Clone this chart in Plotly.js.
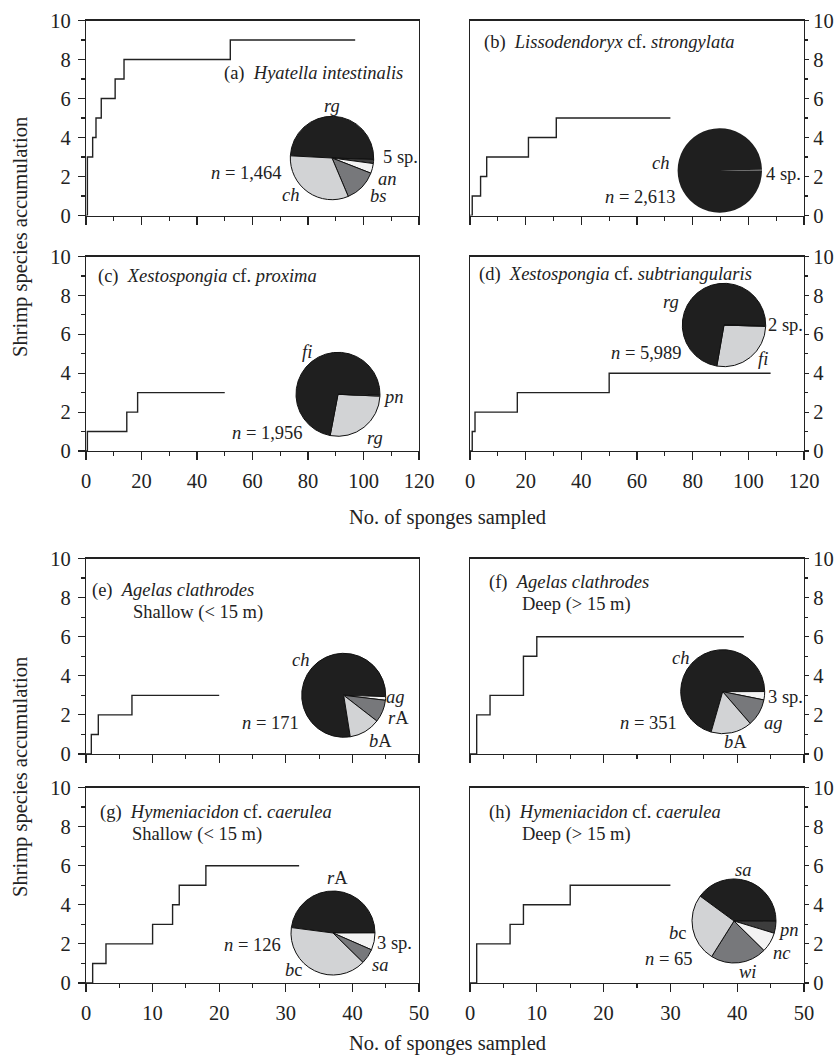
<!DOCTYPE html>
<html><head><meta charset="utf-8">
<script src="https://cdn.plot.ly/plotly-3.0.1.min.js"></script>
<style>html,body{margin:0;padding:0;background:#fff;} #chart{width:840px;height:1057px;}</style>
</head><body><div id="chart"></div>
<script>
// ---------------- DATA ----------------
const panelIds = ['a','b','c','d','e','f','g','h'];
const xMaxTop = 120;      // panels a-d
const xMaxBottom = 50;    // panels e-h
const yMax = 10;
const yTicks = [0, 2, 4, 6, 8, 10];

// species accumulation steps (sponges sampled -> cumulative shrimp species)
const stepA_x = [0, 0.5, 2.4, 3.6, 5.5, 10.5, 13.7, 52, 97];
const stepA_y = [0, 3, 4, 5, 6, 7, 8, 9, 9];
const stepB_x = [0, 0.8, 3.8, 6, 21, 31, 72];
const stepB_y = [0, 1, 2, 3, 4, 5, 5];
const stepC_x = [0, 0.5, 14.7, 18.6, 50];
const stepC_y = [0, 1, 2, 3, 3];
const stepD_x = [0, 0.8, 1.8, 17, 50, 108];
const stepD_y = [0, 1, 2, 3, 4, 4];
const stepE_x = [0, 0.8, 1.85, 6.9, 20];
const stepE_y = [0, 1, 2, 3, 3];
const stepF_x = [0, 1, 3, 8, 10, 41];
const stepF_y = [0, 2, 3, 5, 6, 6];
const stepG_x = [0, 1, 3, 10, 13, 14, 18, 32];
const stepG_y = [0, 1, 2, 3, 4, 5, 6, 6];
const stepH_x = [0, 1, 6, 8, 15, 30];
const stepH_y = [0, 2, 3, 4, 5, 5];

// pie composition (%), listed clockwise
const pieA_labels = ['rg', '5 sp.', 'an', 'bs', 'ch'];
const pieA_values = [49.7, 1.6, 3.8, 12.7, 32.2];
const pieB_labels = ['4 sp.', 'ch'];
const pieB_values = [0.5, 99.5];
const pieC_labels = ['rg', 'fi', 'pn'];
const pieC_values = [27.3, 72.4, 0.3];
const pieD_labels = ['fi', 'rg', '2 sp.'];
const pieD_values = [27.2, 72.5, 0.3];
const pieE_labels = ['ch', 'ag', 'rA', 'bA'];
const pieE_values = [78, 1.4, 8.6, 12];
const pieF_labels = ['ch', '3 sp.', 'ag', 'bA'];
const pieF_values = [70.5, 3.2, 10.5, 15.8];
const pieG_labels = ['rA', '3 sp.', 'sa', 'bc'];
const pieG_values = [47.9, 6.6, 5.8, 39.7];
const pieH_labels = ['sa', 'pn', 'nc', 'wi', 'bc'];
const pieH_values = [26, 3, 5, 14, 17];

const sampleN = ['1,464', '2,613', '1,956', '5,989', '171', '351', '126', '65'];

const panelTitles = [
  '(a)\u00a0\u00a0<i>Hyatella intestinalis</i>',
  '(b)\u00a0\u00a0<i>Lissodendoryx</i> cf. <i>strongylata</i>',
  '(c)\u00a0\u00a0<i>Xestospongia</i> cf. <i>proxima</i>',
  '(d)\u00a0\u00a0<i>Xestospongia</i> cf. <i>subtriangularis</i>',
  '(e)\u00a0\u00a0<i>Agelas clathrodes</i>',
  '(f)\u00a0\u00a0<i>Agelas clathrodes</i>',
  '(g)\u00a0\u00a0<i>Hymeniacidon</i> cf. <i>caerulea</i>',
  '(h)\u00a0\u00a0<i>Hymeniacidon</i> cf. <i>caerulea</i>'
];
const depthLabels = ['', '', '', '', 'Shallow (&lt; 15 m)', 'Deep (&gt; 15 m)', 'Shallow (&lt; 15 m)', 'Deep (&gt; 15 m)'];
const xTitle = 'No. of sponges sampled';
const yTitle = 'Shrimp species accumulation';

// ---------------- STYLE / LAYOUT ----------------
const W = 840, H = 1057;
const FONT = 'Liberation Serif, Times New Roman, serif';
const INK = '#222';
const px = v => v / W;
const py = v => 1 - v / H;

const colL = [86, 419], colR = [470, 804];
const rows = [[20.5, 215.5], [256.5, 451], [558.5, 754], [787.5, 983]];

const steps = [[stepA_x, stepA_y], [stepB_x, stepB_y], [stepC_x, stepC_y], [stepD_x, stepD_y],
               [stepE_x, stepE_y], [stepF_x, stepF_y], [stepG_x, stepG_y], [stepH_x, stepH_y]];

const K = '#1f1f1f', D = '#3d3d3d', G = '#77787b', L = '#d2d3d5', Wt = '#f3f3f3';
const pies = [
  {labels: pieA_labels, values: pieA_values, colors: [K, D, Wt, G, L], rot: -87, c: [332, 158, 41.7]},
  {labels: pieB_labels, values: pieB_values, colors: ['#666', K], rot: 89, c: [719.8, 170.5, 42.2]},
  {labels: pieC_labels, values: pieC_values, colors: [L, K, Wt], rot: 92.5, c: [338, 394.3, 42]},
  {labels: pieD_labels, values: pieD_values, colors: [L, K, Wt], rot: 92, c: [724, 325, 41.7]},
  {labels: pieE_labels, values: pieE_values, colors: [K, Wt, G, L], rot: 171, c: [343.7, 695.3, 42]},
  {labels: pieF_labels, values: pieF_values, colors: [K, Wt, G, L], rot: 196, c: [722.7, 691.7, 42]},
  {labels: pieG_labels, values: pieG_values, colors: [K, Wt, G, L], rot: -82.6, c: [333, 933, 42]},
  {labels: pieH_labels, values: pieH_values, colors: [K, D, Wt, G, L], rot: -53.7, c: [734, 921, 42]}
];

const sliceText = {
  'rg': '<i>rg</i>', 'ch': '<i>ch</i>', 'an': '<i>an</i>', 'bs': '<i>bs</i>', 'fi': '<i>fi</i>',
  'pn': '<i>pn</i>', 'ag': '<i>ag</i>', 'sa': '<i>sa</i>', 'nc': '<i>nc</i>', 'wi': '<i>wi</i>',
  'rA': '<i>r</i>A', 'bA': '<i>b</i>A', 'bc': '<i>b</i>c',
  '5 sp.': '5 sp.', '4 sp.': '4 sp.', '3 sp.': '3 sp.', '2 sp.': '2 sp.'
};
const pieLabelPos = [
  {'rg': [332, 106, 'center'], '5 sp.': [382, 157, 'left'], 'an': [387, 179, 'center'], 'bs': [378, 196, 'center'], 'ch': [290.5, 195, 'center'], n: [283, 173]},
  {'ch': [660, 163, 'center'], '4 sp.': [765, 174, 'left'], n: [677, 197]},
  {'fi': [307, 352, 'center'], 'pn': [393, 397, 'center'], 'rg': [375, 438, 'center'], n: [304, 433]},
  {'rg': [671, 302, 'center'], '2 sp.': [766.5, 325, 'left'], 'fi': [763, 359, 'center'], n: [683, 353]},
  {'ch': [300, 660, 'center'], 'ag': [395, 697, 'center'], 'rA': [398, 718, 'center'], 'bA': [380, 741, 'center'], n: [300, 723]},
  {'ch': [680, 658, 'center'], '3 sp.': [766.5, 697, 'left'], 'ag': [773, 723, 'center'], 'bA': [735, 742, 'center'], n: [678, 723]},
  {'rA': [337, 878, 'center'], '3 sp.': [376, 943, 'left'], 'sa': [380, 965, 'center'], 'bc': [293, 970, 'center'], n: [281.7, 945]},
  {'sa': [743, 870, 'center'], 'pn': [788, 930, 'center'], 'nc': [782, 953, 'center'], 'wi': [747, 972, 'center'], 'bc': [677, 933, 'center'], n: [692.7, 959]}
];
const titlePos = [[223, 73], [483, 43], [97, 276], [478, 275], [91, 590], [488, 582], [99, 812], [488, 812]];
const depthPos = [null, null, null, null, [132, 612], [521, 604], [131, 834], [521, 834]];

const data = [];
const layout = {
  width: W, height: H, margin: {l: 0, r: 0, t: 0, b: 0},
  paper_bgcolor: '#fff', plot_bgcolor: 'rgba(0,0,0,0)',
  showlegend: false, font: {family: FONT, size: 19, color: INK},
  annotations: []
};

function ann(text, x, y, xa, size, extra) {
  return Object.assign({text: text, x: px(x), y: py(y), xref: 'paper', yref: 'paper', showarrow: false,
    xanchor: xa || 'center', yanchor: 'middle', borderpad: 0,
    font: {family: FONT, size: size || 18.5, color: INK}}, extra || {});
}

for (let i = 0; i < 8; i++) {
  const isRight = i % 2 === 1;
  const row = Math.floor(i / 2);
  const isBottomOfGroup = row === 1 || row === 3;
  const xmax = i < 4 ? xMaxTop : xMaxBottom;
  const sfx = i === 0 ? '' : String(i + 1);
  const col = isRight ? colR : colL;
  const r = rows[row];

  data.push({type: 'scatter', mode: 'lines', x: steps[i][0], y: steps[i][1], xaxis: 'x' + sfx, yaxis: 'y' + sfx,
    line: {shape: 'hv', color: INK, width: 1.4}, hoverinfo: 'skip', cliponaxis: false});

  layout['xaxis' + sfx] = {
    domain: [px(col[0]), px(col[1])], anchor: 'y' + sfx, range: [0, xmax], fixedrange: true,
    showgrid: false, zeroline: false, showline: true, mirror: true, linecolor: INK, linewidth: 1.2,
    ticks: 'outside', ticklen: 8, tickwidth: 1.1, tickcolor: INK, dtick: xmax === 120 ? 20 : 10, tick0: 0,
    minor: {ticks: 'outside', ticklen: 4, tickwidth: 1.1, tickcolor: INK, dtick: xmax === 120 ? 10 : 5, showgrid: false},
    showticklabels: isBottomOfGroup, tickfont: {family: FONT, size: 20.5, color: INK}, ticklabelstandoff: 3
  };
  layout['yaxis' + sfx] = {
    domain: [py(r[1]), py(r[0])], anchor: 'x' + sfx, range: [0, yMax], fixedrange: true, side: isRight ? 'right' : 'left',
    showgrid: false, zeroline: false, showline: true, mirror: true, linecolor: INK, linewidth: 1.2,
    ticks: 'outside', ticklen: isRight ? 4 : 7, tickwidth: 1.1, tickcolor: INK, tickmode: 'array', tickvals: yTicks,
    minor: {ticks: 'outside', ticklen: isRight ? 3 : 4, tickwidth: 1.1, tickcolor: INK, dtick: 1, tick0: 0, showgrid: false},
    tickfont: {family: FONT, size: 20.5, color: INK}, ticklabelstandoff: isRight ? 0 : 3
  };

  const p = pies[i];
  const [cx, cy, rad] = p.c;
  data.push({type: 'pie', labels: p.labels, values: p.values, sort: false, direction: 'clockwise', rotation: p.rot,
    textinfo: 'none', hoverinfo: 'skip', showlegend: false,
    marker: {colors: p.colors, line: {color: '#111', width: i === 1 ? 0 : 1}},
    domain: {x: [px(cx - rad), px(cx + rad)], y: [py(cy + rad), py(cy - rad)]}});

  const lp = pieLabelPos[i];
  p.labels.forEach(lb => {
    const pos = lp[lb];
    if (pos) layout.annotations.push(ann(sliceText[lb], pos[0], pos[1], pos[2]));
  });
  layout.annotations.push(ann('<i>n</i> = ' + sampleN[i], lp.n[0], lp.n[1], 'right'));

  layout.annotations.push(ann(panelTitles[i], titlePos[i][0], titlePos[i][1], 'left'));
  if (depthLabels[i]) layout.annotations.push(ann(depthLabels[i], depthPos[i][0], depthPos[i][1], 'left'));
}

[237, 777].forEach(y => layout.annotations.push(ann(yTitle, 20, y, 'center', 20.5, {textangle: -90})));
[517, 1043].forEach(y => layout.annotations.push(ann(xTitle, 447, y, 'center', 20.5)));

Plotly.newPlot('chart', data, layout, {staticPlot: true, displayModeBar: false});
</script></body></html>
